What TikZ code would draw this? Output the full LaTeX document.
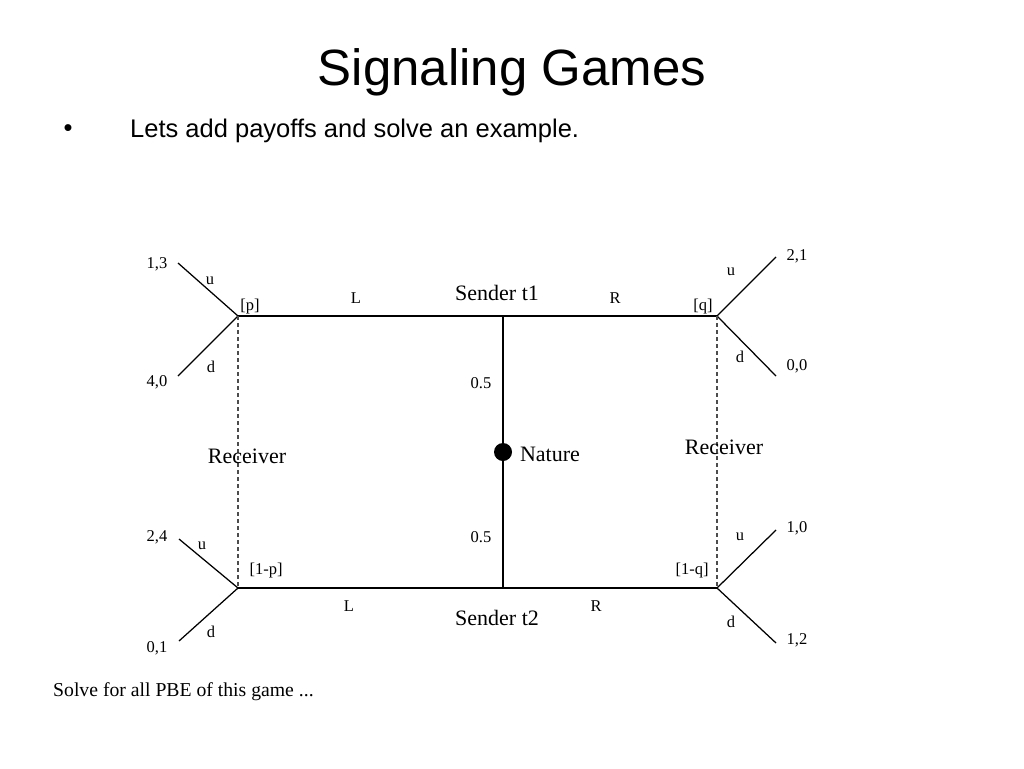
\documentclass[tikz,border=0pt]{standalone}
\usepackage{fontspec}
\setmainfont{Liberation Serif}
\newfontfamily\arialf{Liberation Sans}
\begin{document}
\begin{tikzpicture}[x=1pt,y=-1pt,
  edge/.style={line width=1.25pt,black},
  info/.style={line width=1.3pt,dash pattern=on 4pt off 3pt,black!70},
  sm/.style={font=\fontsize{16.5}{18}\selectfont,inner sep=0pt,anchor=center},
  big/.style={font=\fontsize{22}{24}\selectfont,inner sep=0pt,anchor=center}]
\useasboundingbox (0,0) rectangle (1024,768);
% title and bullet
\node[font=\arialf\fontsize{51}{56}\selectfont,inner sep=0pt] (title) at (512,72) {Signaling Games};
\node[font=\arialf\fontsize{25.5}{28}\selectfont,inner sep=0pt] (bul) at (68,131) {\textbullet};
\node[font=\arialf\fontsize{25.5}{28}\selectfont,inner sep=0pt,anchor=west] (sub) at (130,131) {Lets add payoffs and solve an example.};
% game nodes
\coordinate (s1) at (503,316);
\coordinate (s2) at (503,588);
\node[circle,fill=black,minimum size=18pt,inner sep=0pt] (nat) at (503,452) {};
\coordinate (r1) at (238,316);
\coordinate (r2) at (717,316);
\coordinate (r3) at (238,588);
\coordinate (r4) at (717,588);
\coordinate (t1) at (178,263);
\coordinate (t2) at (178,376);
\coordinate (t3) at (776,257);
\coordinate (t4) at (776,376);
\coordinate (t5) at (179,539);
\coordinate (t6) at (179,641);
\coordinate (t7) at (776,530);
\coordinate (t8) at (776,643);
% edges
\draw[edge] (r1) -- (s1) -- (r2);
\draw[edge] (r3) -- (s2) -- (r4);
\draw[edge] (s1) -- (nat) -- (s2);
\draw[edge] (r1) -- (t1);
\draw[edge] (r1) -- (t2);
\draw[edge] (r2) -- (t3);
\draw[edge] (r2) -- (t4);
\draw[edge] (r3) -- (t5);
\draw[edge] (r3) -- (t6);
\draw[edge] (r4) -- (t7);
\draw[edge] (r4) -- (t8);
\draw[info] (r1) -- (r3);
\draw[info] (r2) -- (r4);
% labels
\node[sm] (p13) at (157,264) {1,3};
\node[sm] (p40) at (157,382) {4,0};
\node[sm] (lu1) at (210,281) {u};
\node[sm] (ld1) at (211,367) {d};
\node[sm] (lp) at (250,307) {[p]};
\node[sm] (lL1) at (356,298) {L};
\node[big] (lS1) at (497,293) {Sender t1};
\node[sm] (lR1) at (615,298) {R};
\node[sm] (lq) at (703,307) {[q]};
\node[sm] (lu2) at (731,272) {u};
\node[sm] (ld2) at (740,357) {d};
\node[sm] (p21) at (797,256) {2,1};
\node[sm] (p00) at (797,366) {0,0};
\node[sm] (h1) at (481,383) {0.5};
\node[big] (lN) at (550,454) {Nature};
\node[big] (lRec1) at (247,456) {Receiver};
\node[big] (lRec2) at (724,447) {Receiver};
\node[sm] (h2) at (481,537) {0.5};
\node[sm] (p24) at (157,537) {2,4};
\node[sm] (lu3) at (202,546) {u};
\node[sm] (l1p) at (266,571) {[1-p]};
\node[sm] (l1q) at (692,571) {[1-q]};
\node[sm] (lu4) at (740,537) {u};
\node[sm] (p10) at (797,528) {1,0};
\node[sm] (lL2) at (349,606) {L};
\node[big] (lS2) at (497,618) {Sender t2};
\node[sm] (lR2) at (596,606) {R};
\node[sm] (ld3) at (211,632) {d};
\node[sm] (p01) at (157,648) {0,1};
\node[sm] (ld4) at (731,622) {d};
\node[sm] (p12) at (797,640) {1,2};
\node[font=\fontsize{19.7}{22}\selectfont,inner sep=0pt,anchor=west] (solve) at (53,692) {Solve for all PBE of this game ...};
\end{tikzpicture}
\end{document}
